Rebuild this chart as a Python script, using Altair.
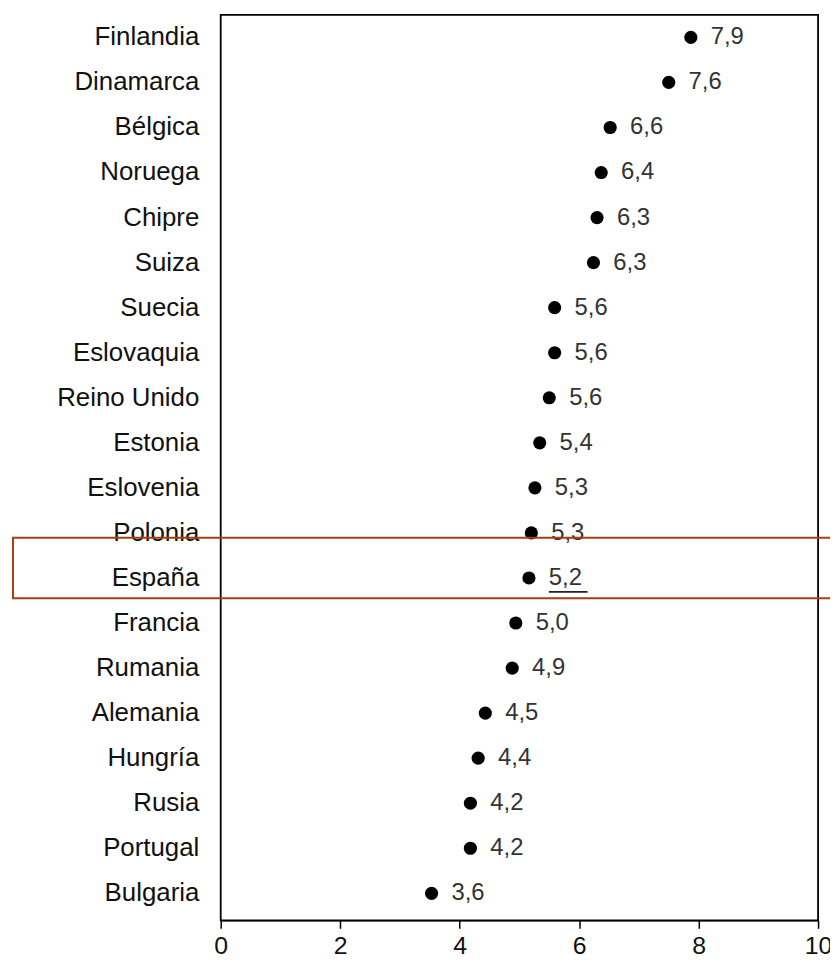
import altair as alt
import pandas as pd

paises = ["Finlandia", "Dinamarca", "Bélgica", "Noruega", "Chipre", "Suiza",
          "Suecia", "Eslovaquia", "Reino Unido", "Estonia", "Eslovenia",
          "Polonia", "España", "Francia", "Rumania", "Alemania", "Hungría",
          "Rusia", "Portugal", "Bulgaria"]
valores = [7.87, 7.5, 6.52, 6.37, 6.3, 6.24, 5.59, 5.59, 5.5, 5.34, 5.26,
           5.2, 5.16, 4.94, 4.88, 4.43, 4.31, 4.18, 4.18, 3.53]
etiquetas = ["7,9", "7,6", "6,6", "6,4", "6,3", "6,3", "5,6", "5,6", "5,6",
             "5,4", "5,3", "5,3", "5,2", "5,0", "4,9", "4,5", "4,4", "4,2",
             "4,2", "3,6"]
destacado = "España"
x_ticks = [0, 2, 4, 6, 8, 10]

df = pd.DataFrame({"pais": paises, "valor": valores, "etiqueta": etiquetas})
df["destacado"] = df["pais"] == destacado

FONT = "Liberation Sans"

y_enc = alt.Y("pais:N", sort=paises, title=None,
              scale=alt.Scale(paddingInner=0, paddingOuter=0.05, align=0),
              axis=alt.Axis(labelFontSize=26, labelColor="#111111", labelFont=FONT,
                            ticks=False, tickSize=0, labelPadding=22, domain=False))
x_enc = alt.X("valor:Q", title=None,
              scale=alt.Scale(domain=[0, 10], nice=False),
              axis=alt.Axis(values=x_ticks, grid=False, tickSize=8, tickColor="black",
                            tickWidth=1.5, domainColor="black", domainWidth=1.5,
                            labelFontSize=25, labelColor="#111111", labelFont=FONT,
                            labelPadding=5, format="d", labelFlush=False))

base = alt.Chart(df)

puntos = base.mark_circle(size=175, color="black", opacity=1).encode(x=x_enc, y=y_enc)

textos = base.mark_text(align="left", baseline="middle", dx=20, dy=0,
                        fontSize=24, font=FONT, color="#333333").encode(
    x="valor:Q", y=alt.Y("pais:N", sort=paises), text="etiqueta:N")

subrayado = base.transform_filter(alt.datum.destacado).mark_rule(
    color="#222222", strokeWidth=1.6, xOffset=20, x2Offset=59, yOffset=14).encode(
    x="valor:Q", x2="valor:Q", y=alt.Y("pais:N", sort=paises))

recuadro = base.transform_filter(alt.datum.destacado).mark_rect(
    filled=False, stroke="#a3410f", strokeWidth=2).encode(
    x=alt.value(-209), x2=alt.value(640), y=alt.value(526), y2=alt.value(587))

chart = alt.layer(puntos, textos, subrayado, recuadro).properties(
    width=601, height=911,
    autosize=alt.AutoSizeParams(type="none"),
    padding={"left": 214, "top": 4, "right": 12, "bottom": 38},
).configure(background="white").configure_view(stroke="black", strokeWidth=1.8)

chart.save("out.html", embed_options={"renderer": "svg", "actions": False})
